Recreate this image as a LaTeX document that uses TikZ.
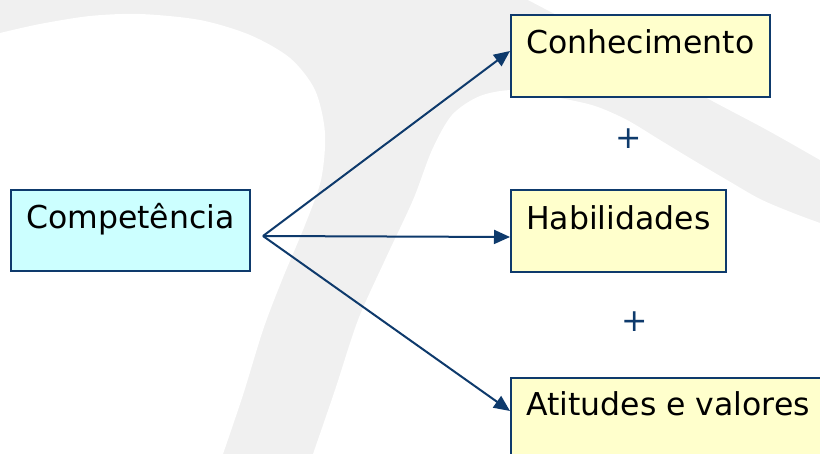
\documentclass[tikz,border=0pt]{standalone}
\usepackage{fontspec}
\setmainfont{DejaVu Sans}
\usetikzlibrary{arrows.meta,calc}
\definecolor{navy}{HTML}{0E3A6C}
\definecolor{bggray}{HTML}{F0F0F0}
\definecolor{boxcyan}{HTML}{CCFFFF}
\definecolor{boxyellow}{HTML}{FFFFCC}
\tikzset{
  boxnode/.style={draw=navy, line width=2pt, inner sep=0pt, anchor=north west},
  lbl/.style={font=\fontsize{31.5}{38}\selectfont, text=black, inner sep=0pt, anchor=base west},
  conn/.style={draw=navy, line width=2pt, -{Triangle[length=16pt,width=14pt]}},
  plussign/.style={font=\fontsize{31.5}{38}\selectfont, text=navy, inner sep=0pt},
}
\begin{document}
\begin{tikzpicture}[x=1pt,y=-1pt]
\useasboundingbox (0,0) rectangle (820,454);
\clip (0,0) rectangle (820,454);
% watermark background
\fill[bggray] (0,0) rectangle (820,454);
\fill[white] (0,454) -- (0,33) -- plot[smooth] coordinates {(0,33) (40,24) (90,16) (140,14) (200,20) (250,35) (290,58) (315,90) (325,133) (321,180) (305,225) (282,280) (263,330) (243,395) (223,454)} -- cycle;
\fill[white] (313,454) -- plot[smooth] coordinates {(313,454) (335,390) (358,320) (385,260) (413,200) (432,150) (452,115) (480,96) (515,90) (560,98) (595,106) (627,120) (660,140) (693,160) (727,180) (760,199) (793,213) (820,223)} -- (820,454) -- cycle;
\fill[white] (820,0) -- (528,0) -- plot[smooth] coordinates {(528,0) (600,38) (650,66) (703,96) (767,130) (820,160)} -- cycle;
% boxes
\node[boxnode, fill=boxcyan, minimum width=239pt, minimum height=81pt] (comp) at (10,189) {};
\node[boxnode, fill=boxyellow, minimum width=259pt, minimum height=82pt] (con) at (510,14) {};
\node[boxnode, fill=boxyellow, minimum width=215pt, minimum height=82pt] (hab) at (510,189) {};
\node[boxnode, fill=boxyellow, minimum width=330pt, minimum height=90pt] (ati) at (510,377) {};
% labels
\node[lbl] (compt) at ($(comp.north west)+(16,40)$) {Competência};
\node[lbl] (cont) at ($(con.north west)+(16,40)$) {Conhecimento};
\node[lbl] (habt) at ($(hab.north west)+(16,41)$) {Habilidades};
\node[lbl] (atit) at ($(ati.north west)+(16,39)$) {Atitudes e valores};
% plus signs
\node[plussign] (p1) at (629,139) {+};
\node[plussign] (p2) at (635,322) {+};
% connectors
\coordinate (fork) at (263,236);
\draw[conn] (fork) -- ([yshift=5pt]con.west);
\draw[conn] (fork) -- ([yshift=-6pt]hab.west);
\draw[conn] (fork) -- ([yshift=12pt]ati.west);
\end{tikzpicture}
\end{document}
